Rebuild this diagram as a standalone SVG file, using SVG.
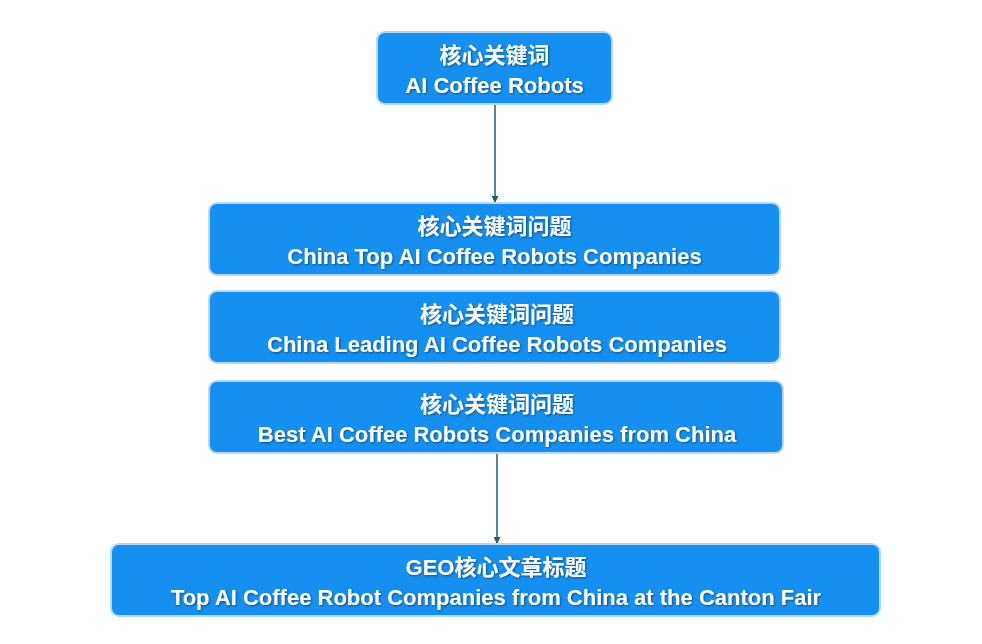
<svg xmlns="http://www.w3.org/2000/svg" width="982" height="644" viewBox="0 0 982 644">
<style>
.b{fill:#1690f0;stroke:#b5d8f3;stroke-width:2}
.t{font-family:"Liberation Sans","Noto Sans CJK SC",sans-serif;font-weight:bold;font-size:22px;fill:#fff;text-anchor:middle;filter:url(#s)}
.c{stroke:#1f5c6e;stroke-width:1.5;fill:none;marker-end:url(#a)}
</style>
<defs>
<marker id="a" viewBox="0 0 10 10" refX="10" refY="5" markerWidth="7" markerHeight="7" orient="auto" markerUnits="userSpaceOnUse"><path d="M0,0L10,5L0,10z" fill="#1f5c6e"/></marker>
<filter id="s" x="-5%" y="-20%" width="110%" height="140%"><feDropShadow dx="1" dy="1" stdDeviation="0.8" flood-color="#000" flood-opacity="0.45"/></filter>
</defs>
<rect width="982" height="644" fill="#fff"/>
<g id="connectors">
<path class="c" d="M495,105V203"/>
<path class="c" d="M497,454V544"/>
</g>
<g id="n1"><rect class="b" x="377" y="32" width="235" height="72" rx="8"/>
<text class="t" x="494.5" y="63">核心关键词</text><text class="t" x="494.5" y="93">AI Coffee Robots</text></g>
<g id="n2"><rect class="b" x="209" y="203" width="571" height="72" rx="8"/>
<text class="t" x="494.5" y="234">核心关键词问题</text><text class="t" x="494.5" y="264">China Top AI Coffee Robots Companies</text></g>
<g id="n3"><rect class="b" x="209" y="291" width="571" height="72" rx="8"/>
<text class="t" x="497" y="322">核心关键词问题</text><text class="t" x="497" y="352">China Leading AI Coffee Robots Companies</text></g>
<g id="n4"><rect class="b" x="209" y="381" width="574" height="72" rx="8"/>
<text class="t" x="497" y="412">核心关键词问题</text><text class="t" x="497" y="442">Best AI Coffee Robots Companies from China</text></g>
<g id="n5"><rect class="b" x="111" y="544" width="769" height="72" rx="8"/>
<text class="t" x="496" y="575">GEO核心文章标题</text><text class="t" x="496" y="605">Top AI Coffee Robot Companies from China at the Canton Fair</text></g>
</svg>
